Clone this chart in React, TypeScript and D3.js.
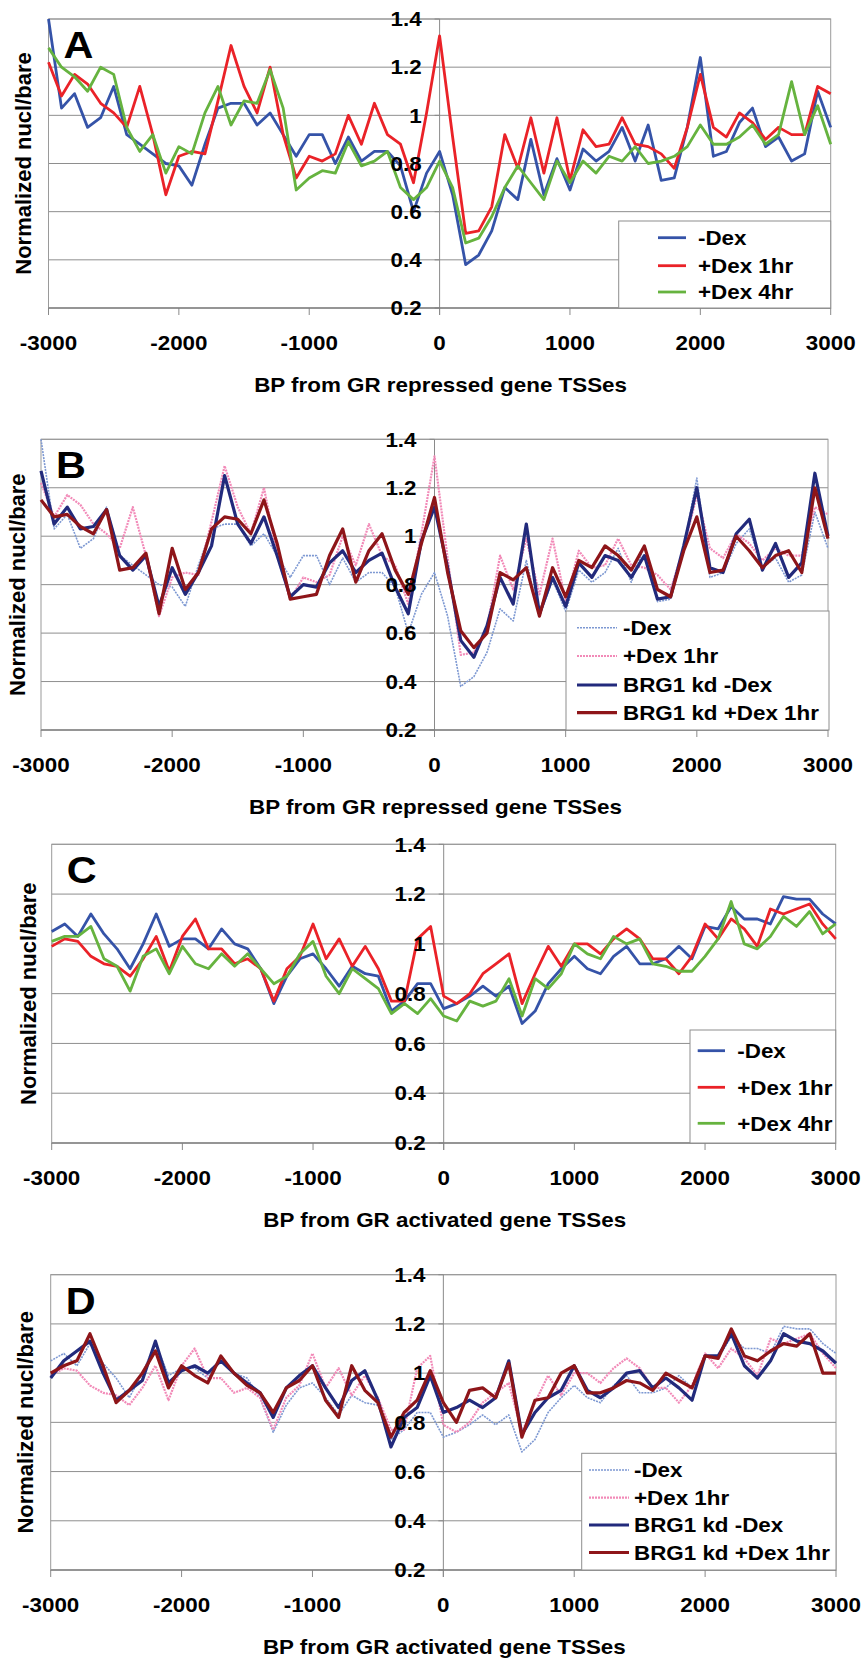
import React from "react";
import * as d3 from "d3";

// x categories (bp from TSS), 100-bp bins
const BP = d3.range(-3000, 3001, 100);
const X_TICKS = [-3000, -2000, -1000, 0, 1000, 2000, 3000];
const Y_TICKS = [0.2, 0.4, 0.6, 0.8, 1, 1.2, 1.4];
const Y_TICK_LABELS = ["0.2", "0.4", "0.6", "0.8", "1", "1.2", "1.4"];

// GR repressed genes
const repMinusDex = [
  1.40, 1.03, 1.09, 0.95, 0.99, 1.12, 0.92, 0.88, 0.84, 0.80, 0.79, 0.71, 0.88, 1.03, 1.05, 1.05, 0.96, 1.01, 0.92, 0.83, 0.92, 0.92, 0.80, 0.91, 0.81, 0.85, 0.85, 0.79, 0.60, 0.76, 0.85,
  0.67, 0.38, 0.42, 0.52, 0.70, 0.65, 0.90, 0.67, 0.82, 0.69, 0.86, 0.81, 0.85, 0.95, 0.81, 0.96, 0.73, 0.74, 0.95, 1.24, 0.83, 0.85, 0.97, 1.03, 0.87, 0.91, 0.81, 0.84, 1.10, 0.95,
];
const repPlusDex1hr = [
  1.22, 1.08, 1.17, 1.13, 1.05, 1.01, 0.95, 1.12, 0.92, 0.67, 0.83, 0.85, 0.84, 1.06, 1.29, 1.12, 1.01, 1.20, 0.92, 0.74, 0.83, 0.81, 0.84, 1.00, 0.88, 1.05, 0.92, 0.88, 0.72, 1.01, 1.33,
  0.91, 0.51, 0.52, 0.62, 0.92, 0.78, 0.99, 0.76, 0.99, 0.73, 0.94, 0.87, 0.88, 0.99, 0.88, 0.87, 0.84, 0.78, 0.95, 1.17, 0.95, 0.91, 1.01, 0.97, 0.90, 0.95, 0.92, 0.92, 1.12, 1.09,
];
const repPlusDex4hr = [
  1.28, 1.20, 1.16, 1.10, 1.20, 1.17, 0.95, 0.85, 0.92, 0.76, 0.87, 0.84, 1.01, 1.12, 0.96, 1.06, 1.05, 1.19, 1.03, 0.69, 0.74, 0.77, 0.76, 0.89, 0.79, 0.81, 0.85, 0.70, 0.65, 0.70, 0.81,
  0.70, 0.47, 0.49, 0.58, 0.70, 0.79, 0.72, 0.65, 0.81, 0.72, 0.81, 0.76, 0.83, 0.81, 0.87, 0.80, 0.81, 0.83, 0.87, 0.96, 0.88, 0.88, 0.91, 0.96, 0.88, 0.92, 1.14, 0.92, 1.04, 0.88,
];
const repBrg1MinusDex = [
  1.27, 1.05, 1.12, 1.03, 1.04, 1.11, 0.92, 0.86, 0.92, 0.71, 0.87, 0.76, 0.85, 0.96, 1.25, 1.05, 0.97, 1.08, 0.92, 0.75, 0.80, 0.79, 0.89, 0.94, 0.85, 0.90, 0.93, 0.79, 0.68, 0.98, 1.12,
  0.87, 0.57, 0.50, 0.63, 0.83, 0.72, 1.05, 0.68, 0.83, 0.71, 0.89, 0.83, 0.92, 0.90, 0.83, 0.92, 0.74, 0.75, 0.96, 1.20, 0.87, 0.85, 1.01, 1.07, 0.86, 0.97, 0.83, 0.89, 1.26, 1.00,
];
const repBrg1PlusDex1hr = [
  1.15, 1.08, 1.09, 1.04, 1.01, 1.11, 0.86, 0.87, 0.93, 0.68, 0.95, 0.78, 0.85, 1.03, 1.08, 1.07, 1.01, 1.15, 0.97, 0.74, 0.75, 0.76, 0.92, 1.03, 0.81, 0.94, 1.01, 0.86, 0.76, 0.97, 1.16,
  0.85, 0.61, 0.54, 0.60, 0.85, 0.82, 0.87, 0.67, 0.87, 0.75, 0.90, 0.87, 0.96, 0.92, 0.86, 0.96, 0.78, 0.75, 0.94, 1.08, 0.85, 0.86, 1.00, 0.94, 0.87, 0.92, 0.94, 0.85, 1.20, 0.99,
];

// GR activated genes
const actMinusDex = [
  1.05, 1.08, 1.03, 1.12, 1.04, 0.98, 0.90, 1.00, 1.12, 0.99, 1.02, 1.02, 0.98, 1.06, 1.00, 0.98, 0.90, 0.76, 0.87, 0.94, 0.96, 0.90, 0.83, 0.91, 0.88, 0.87, 0.73, 0.77, 0.84, 0.84, 0.74,
  0.76, 0.79, 0.83, 0.79, 0.83, 0.68, 0.73, 0.84, 0.90, 0.95, 0.90, 0.88, 0.95, 0.99, 0.92, 0.92, 0.94, 0.99, 0.94, 1.07, 1.06, 1.15, 1.10, 1.10, 1.08, 1.19, 1.18, 1.18, 1.12, 1.08,
];
const actPlusDex1hr = [
  0.99, 1.02, 1.01, 0.95, 0.92, 0.91, 0.87, 0.94, 1.03, 0.89, 1.03, 1.10, 0.98, 0.98, 0.92, 0.94, 0.90, 0.77, 0.90, 0.95, 1.08, 0.94, 1.02, 0.91, 0.99, 0.90, 0.77, 0.77, 1.02, 1.07, 0.79,
  0.76, 0.80, 0.88, 0.92, 0.96, 0.76, 0.88, 0.99, 0.91, 1.00, 1.00, 0.96, 1.02, 1.06, 1.02, 0.94, 0.94, 0.88, 0.95, 1.08, 1.02, 1.10, 1.06, 0.99, 1.14, 1.12, 1.14, 1.16, 1.08, 1.02,
];
const actPlusDex4hr = [
  1.01, 1.03, 1.03, 1.07, 0.94, 0.91, 0.81, 0.95, 0.98, 0.88, 0.99, 0.92, 0.90, 0.96, 0.91, 0.96, 0.90, 0.84, 0.87, 0.96, 1.01, 0.87, 0.80, 0.90, 0.86, 0.82, 0.72, 0.76, 0.72, 0.78, 0.71,
  0.69, 0.77, 0.75, 0.77, 0.86, 0.71, 0.86, 0.82, 0.88, 1.00, 0.96, 0.94, 1.03, 1.00, 1.02, 0.92, 0.91, 0.89, 0.89, 0.95, 1.02, 1.17, 1.00, 0.98, 1.03, 1.11, 1.07, 1.13, 1.04, 1.08,
];
const actBrg1MinusDex = [
  0.98, 1.05, 1.09, 1.13, 1.00, 0.89, 0.93, 0.97, 1.13, 0.96, 1.01, 1.03, 1.00, 1.05, 1.00, 0.96, 0.92, 0.82, 0.94, 0.99, 1.03, 0.94, 0.86, 0.97, 1.01, 0.89, 0.70, 0.82, 0.86, 0.99, 0.84,
  0.86, 0.89, 0.86, 0.90, 1.05, 0.75, 0.84, 0.90, 0.93, 1.03, 0.93, 0.90, 0.94, 1.00, 1.01, 0.94, 0.98, 0.94, 0.89, 1.07, 1.07, 1.16, 1.03, 0.98, 1.05, 1.16, 1.13, 1.12, 1.09, 1.04,
];
const actBrg1PlusDex1hr = [
  1.00, 1.03, 1.05, 1.16, 1.03, 0.88, 0.93, 1.00, 1.09, 0.94, 1.03, 0.99, 0.96, 1.07, 1.00, 0.95, 0.92, 0.84, 0.94, 0.97, 1.03, 0.89, 0.82, 1.03, 0.93, 0.88, 0.74, 0.84, 0.89, 1.01, 0.88,
  0.80, 0.93, 0.94, 0.90, 1.04, 0.74, 0.89, 0.90, 1.00, 1.03, 0.92, 0.92, 0.94, 0.97, 0.96, 0.93, 1.00, 0.97, 0.94, 1.07, 1.06, 1.18, 1.07, 1.05, 1.09, 1.12, 1.11, 1.16, 1.00, 1.00,
];

const FONT = "'Liberation Sans', Arial, sans-serif";
const SX = 1.12; // horizontal stretch of the original figure's lettering

type S = { name: string; values: number[]; color: string; width: number; dash?: string };

const BLUE = "#3553a8";
const RED = "#ea2228";
const GREEN = "#66b33f";
const NAVY = "#222a7c";
const DARKRED = "#8e1519";
const LBLUE = "#7d98d2";
const PINK = "#f28ab8";

const seriesA: S[] = [
  { name: "-Dex", values: repMinusDex, color: BLUE, width: 2.8 },
  { name: "+Dex 1hr", values: repPlusDex1hr, color: RED, width: 2.8 },
  { name: "+Dex 4hr", values: repPlusDex4hr, color: GREEN, width: 2.8 },
];
const seriesB: S[] = [
  { name: " -Dex", values: repMinusDex, color: LBLUE, width: 1.6, dash: "2 1" },
  { name: " +Dex 1hr", values: repPlusDex1hr, color: PINK, width: 2.2, dash: "2 1" },
  { name: "BRG1 kd -Dex", values: repBrg1MinusDex, color: NAVY, width: 3.2 },
  { name: "BRG1 kd +Dex 1hr", values: repBrg1PlusDex1hr, color: DARKRED, width: 3.2 },
];
const seriesC: S[] = [
  { name: "-Dex", values: actMinusDex, color: BLUE, width: 2.8 },
  { name: "+Dex 1hr", values: actPlusDex1hr, color: RED, width: 2.8 },
  { name: "+Dex 4hr", values: actPlusDex4hr, color: GREEN, width: 2.8 },
];
const seriesD: S[] = [
  { name: " -Dex", values: actMinusDex, color: LBLUE, width: 1.6, dash: "2 1" },
  { name: " +Dex 1hr", values: actPlusDex1hr, color: PINK, width: 2.2, dash: "2 1" },
  { name: "BRG1 kd -Dex", values: actBrg1MinusDex, color: NAVY, width: 3.2 },
  { name: "BRG1 kd +Dex 1hr", values: actBrg1PlusDex1hr, color: DARKRED, width: 3.2 },
];

type Panel = {
  letter: string;
  title: string;
  series: S[];
  left: number; right: number; top: number; bottom: number;
  ylabX: number;
  legend: { x0: number; x1: number; y0: number; rows: number[]; lx0: number; lx1: number; tx: number };
};

const panels: Panel[] = [
  {
    letter: "A", title: "BP from GR repressed gene TSSes", series: seriesA,
    left: 48.5, right: 830.7, top: 19, bottom: 308,
    ylabX: 23,
    legend: { x0: 618.7, x1: 830.7, y0: 221, rows: [237.7, 265.7, 292], lx0: 658, lx1: 686, tx: 698 },
  },
  {
    letter: "B", title: "BP from GR repressed gene TSSes", series: seriesB,
    left: 41, right: 828, top: 439.3, bottom: 730,
    ylabX: 17,
    legend: { x0: 566, x1: 829, y0: 611, rows: [627.7, 656, 685, 712.7], lx0: 577, lx1: 617, tx: 623 },
  },
  {
    letter: "C", title: "BP from GR activated gene TSSes", series: seriesC,
    left: 51.7, right: 835.7, top: 844.3, bottom: 1143,
    ylabX: 28,
    legend: { x0: 690, x1: 835.7, y0: 1030, rows: [1050.7, 1087.3, 1123.3], lx0: 697.7, lx1: 725, tx: 737.3 },
  },
  {
    letter: "D", title: "BP from GR activated gene TSSes", series: seriesD,
    left: 50.7, right: 836, top: 1274.7, bottom: 1570,
    ylabX: 25,
    legend: { x0: 581.7, x1: 836, y0: 1453.3, rows: [1470, 1497.7, 1525, 1552.5], lx0: 589, lx1: 629, tx: 634 },
  },
];

function STxt(props: { x: number; y: number; size: number; anchor?: string; children: React.ReactNode }) {
  const { x, y, size, anchor = "start", children } = props;
  return (
    <text
      transform={`translate(${x},${y}) scale(${SX},1)`}
      textAnchor={anchor as any}
      fontSize={size}
      fontWeight="bold"
      fontFamily={FONT}
      fill="#000"
      dy="0.36em"
    >
      {children}
    </text>
  );
}

function ChartPanel({ p }: { p: Panel }) {
  const x = d3.scaleLinear().domain([-3000, 3000]).range([p.left, p.right]);
  const y = d3.scaleLinear().domain([0.2, 1.4]).range([p.bottom, p.top]);
  const line = d3
    .line<number>()
    .x((_, i) => x(BP[i]))
    .y((v) => y(v));
  const x0 = x(0);
  const midY = (p.top + p.bottom) / 2;
  const lg = p.legend;
  return (
    <g>
      {/* grid */}
      {Y_TICKS.map((t) => (
        <line key={"g" + t} x1={p.left} x2={p.right} y1={y(t)} y2={y(t)} stroke="#8e8e8e" strokeWidth={1} />
      ))}
      <rect x={p.left} y={p.top} width={p.right - p.left} height={p.bottom - p.top} fill="none" stroke="#9a9a9a" strokeWidth={1} />
      <line x1={x0} x2={x0} y1={p.top} y2={p.bottom + 7} stroke="#8a8a8a" strokeWidth={1} />
      {/* x ticks */}
      {X_TICKS.map((t) => (
        <line key={"xt" + t} x1={x(t)} x2={x(t)} y1={p.bottom} y2={p.bottom + 7} stroke="#8a8a8a" strokeWidth={1} />
      ))}
      {Y_TICKS.map((t) => (
        <line key={"yt" + t} x1={x0 - 5} x2={x0} y1={y(t)} y2={y(t)} stroke="#8a8a8a" strokeWidth={1} />
      ))}
      <line x1={p.left} x2={p.right} y1={p.bottom} y2={p.bottom} stroke="#7a7a7a" strokeWidth={1.2} />
      {/* series */}
      {p.series.map((s) => (
        <path
          key={s.name}
          d={line(s.values) || ""}
          fill="none"
          stroke={s.color}
          strokeWidth={s.width}
          strokeDasharray={s.dash}
          strokeLinejoin="round"
        />
      ))}
      {/* y tick labels */}
      {Y_TICKS.map((t, i) => (
        <STxt key={"yl" + t} x={x0 - 18} y={y(t)} size={20} anchor="end">
          {Y_TICK_LABELS[i]}
        </STxt>
      ))}
      {/* x tick labels */}
      {X_TICKS.map((t) => (
        <STxt key={"xl" + t} x={x(t)} y={p.bottom + 35} size={20} anchor="middle">
          {String(t)}
        </STxt>
      ))}
      <STxt x={(p.left + p.right) / 2 + 1} y={p.bottom + 77} size={20} anchor="middle">
        {p.title}
      </STxt>
      <text
        transform={`translate(${p.ylabX},${midY}) rotate(-90)`}
        textAnchor="middle"
        fontSize={22}
        fontWeight="bold"
        fontFamily={FONT}
        dy="0.36em"
      >
        Normalized nucl/bare
      </text>
      {/* panel letter */}
      <text
        transform={`translate(${p.left + 15},${p.top + 39}) scale(${SX},1)`}
        fontSize={37}
        fontWeight="bold"
        fontFamily={FONT}
      >
        {p.letter}
      </text>
      {/* legend */}
      <rect x={lg.x0} y={lg.y0} width={lg.x1 - lg.x0} height={p.bottom - lg.y0} fill="#fff" stroke="#8e8e8e" strokeWidth={1} />
      {p.series.map((s, i) => (
        <g key={"lg" + s.name}>
          <line
            x1={lg.lx0}
            x2={lg.lx1}
            y1={lg.rows[i]}
            y2={lg.rows[i]}
            stroke={s.color}
            strokeWidth={s.width}
            strokeDasharray={s.dash}
          />
          <STxt x={lg.tx} y={lg.rows[i]} size={20}>
            {s.name}
          </STxt>
        </g>
      ))}
    </g>
  );
}

export default function App() {
  return (
    <svg
      width={862}
      height={1659}
      viewBox="0 0 862 1659"
      style={{ position: "absolute", left: 0, top: 0, background: "#fff" }}
    >
      <rect width={862} height={1659} fill="#fff" />
      {panels.map((p) => (
        <ChartPanel key={p.letter} p={p} />
      ))}
    </svg>
  );
}
